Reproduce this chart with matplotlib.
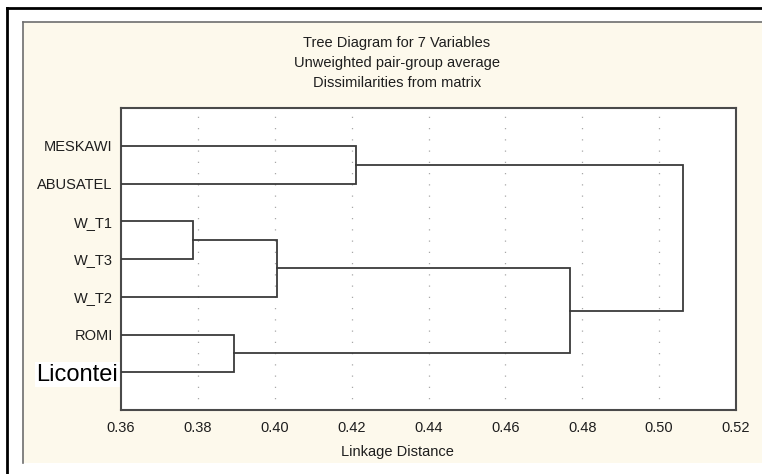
import matplotlib
matplotlib.use('Agg')
import matplotlib.pyplot as plt
import matplotlib.font_manager as fm
import matplotlib.transforms as mtransforms
from matplotlib.lines import Line2D
from matplotlib.patches import Rectangle

# leaves, top to bottom
leaves = ['MESKAWI', 'ABUSATEL', 'W_T1', 'W_T3', 'W_T2', 'ROMI', 'Licontei']
# merges: (child a, child b, linkage distance); new cluster ids start at 7
merge_a = [2, 7, 5, 0, 8, 10]
merge_b = [3, 4, 6, 1, 9, 11]
merge_h = [0.3787, 0.4006, 0.3894, 0.4211, 0.4768, 0.5062]
xticks = [0.36, 0.38, 0.40, 0.42, 0.44, 0.46, 0.48, 0.50, 0.52]

title_lines = ['Tree Diagram for 7 Variables',
               'Unweighted pair-group average',
               'Dissimilarities from matrix']

names = {f.name for f in fm.fontManager.ttflist}
family = ['Liberation Sans Narrow', 'Liberation Sans'] if 'Liberation Sans Narrow' in names else ['Liberation Sans']
plt.rcParams['font.family'] = family

W, H = 762, 474
fig = plt.figure(figsize=(W / 100, H / 100), dpi=100)
fig.patch.set_facecolor('white')

def fx(px):
    return px / W

def fy(py):
    return 1 - py / H

# outer frame and cream panel
fig.add_artist(Line2D([fx(7), fx(7)], [fy(8), fy(474)], color='black', lw=2.0))
fig.add_artist(Line2D([fx(7), fx(762)], [fy(8), fy(8)], color='black', lw=2.0))
fig.add_artist(Rectangle((fx(23), fy(463)), fx(762) - fx(23), fy(22) - fy(463),
                         facecolor='#fdf9ec', edgecolor='none', zorder=0))
fig.add_artist(Line2D([fx(23), fx(23)], [fy(22), fy(463)], color='#6e6e6e', lw=1.2))
fig.add_artist(Line2D([fx(23), fx(762)], [fy(22), fy(22)], color='#6e6e6e', lw=1.2))

ax = fig.add_axes([fx(121), fy(410), fx(736) - fx(121), fy(108) - fy(410)])
ax.set_facecolor('white')
ax.set_xlim(xticks[0], xticks[-1])
ax.set_ylim(len(leaves) + 1, 0)

for x in xticks[1:-1]:
    ax.axvline(x, color='#a8a8a8', lw=0.9, ls=(0, (1, 8)), zorder=1)

# dendrogram
pos = {i: (xticks[0], i + 1) for i in range(len(leaves))}
for k, (a, b, h) in enumerate(zip(merge_a, merge_b, merge_h)):
    xa, ya = pos[a]
    xb, yb = pos[b]
    ax.plot([xa, h, h, xb], [ya, ya, yb, yb], color='#3a3a3a', lw=1.3, zorder=3,
            solid_joinstyle='miter')
    pos[len(leaves) + k] = (h, (ya + yb) / 2)

ax.set_xticks(xticks)
ax.set_xticklabels([f'{v:.2f}' for v in xticks])
ax.set_yticks(range(1, len(leaves) + 1))
ax.set_yticklabels(leaves)
ax.tick_params(length=0, labelsize=10.5, colors='#1e1e1e', pad=8)
ax.tick_params(axis='y', pad=6)
lab = ax.get_yticklabels()[-1]
lab.set_fontsize(17)
lab.set_color('black')
lab.set_family(['Liberation Sans'])
lab.set_bbox(dict(facecolor='white', edgecolor='none', pad=1))
lab.set_transform(lab.get_transform() + mtransforms.ScaledTranslation(4 / 72, 0, fig.dpi_scale_trans))
for s in ax.spines.values():
    s.set_color('#4a4a4a')
    s.set_linewidth(1.5)

for i, t in enumerate(title_lines):
    fig.text(fx(397), fy(43 + 20 * i), t, ha='center', va='center',
             fontsize=10.5, color='#1e1e1e')
fig.text(fx(397), fy(452), 'Linkage Distance', ha='center', va='center',
         fontsize=10.5, color='#1e1e1e')

fig.savefig('out.png', dpi=100)
